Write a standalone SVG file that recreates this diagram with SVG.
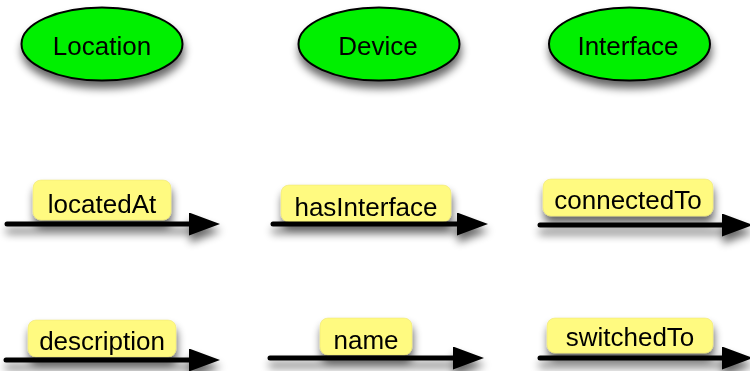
<svg xmlns="http://www.w3.org/2000/svg" width="750" height="371" viewBox="0 0 750 371">
<defs>
<filter id="sh" x="-20%" y="-40%" width="140%" height="200%">
<feGaussianBlur in="SourceAlpha" stdDeviation="4"/>
<feOffset dx="1" dy="7" result="b"/>
<feComponentTransfer in="b" result="s"><feFuncA type="linear" slope="0.6"/></feComponentTransfer>
<feMerge><feMergeNode in="s"/><feMergeNode in="SourceGraphic"/></feMerge>
</filter>
<marker id="ah" viewBox="0 0 31 23" markerUnits="userSpaceOnUse" markerWidth="31" markerHeight="23" refX="6" refY="11.5" orient="auto">
<path d="M0,0 L31,11.5 L0,23 Z" fill="#000"/>
</marker>
</defs>
<style>
.node ellipse{fill:#00f000;stroke:#000;stroke-width:2}
.t{font-family:"Liberation Sans",Arial,Helvetica,sans-serif;font-size:26px;fill:#000;text-anchor:middle}
.lbl{fill:#fffa80;stroke:#e8e070;stroke-width:0.5}
.ln{stroke:#000;stroke-width:5;stroke-linecap:round;fill:none;marker-end:url(#ah)}
</style>
<g id="node-location" class="node" filter="url(#sh)">
<ellipse cx="102" cy="44" rx="80.5" ry="36.5"/>
<text class="t" x="102" y="55">Location</text>
</g>
<g id="node-device" class="node" filter="url(#sh)">
<ellipse cx="379" cy="44" rx="80.5" ry="36.5"/>
<text class="t" x="378" y="55">Device</text>
</g>
<g id="node-interface" class="node" filter="url(#sh)">
<ellipse cx="629.5" cy="44" rx="80.5" ry="36.5"/>
<text class="t" x="628" y="55">Interface</text>
</g>
<g id="connectors" filter="url(#sh)">
<g id="edge-locatedAt">
<rect class="lbl" x="33" y="180" width="138" height="40" rx="8"/>
<text class="t" x="102" y="213">locatedAt</text>
<path class="ln" d="M7,224 H195"/>
</g>
<g id="edge-hasInterface">
<rect class="lbl" x="281" y="185" width="170" height="37" rx="8"/>
<text class="t" x="366" y="216">hasInterface</text>
<path class="ln" d="M273,224 H463"/>
</g>
<g id="edge-connectedTo">
<rect class="lbl" x="543" y="179" width="170" height="37" rx="8"/>
<text class="t" x="628" y="209">connectedTo</text>
<path class="ln" d="M540,225 H728"/>
</g>
<g id="edge-description">
<rect class="lbl" x="28" y="320" width="148" height="37" rx="8"/>
<text class="t" x="102" y="350">description</text>
<path class="ln" d="M6,360 H195"/>
</g>
<g id="edge-name">
<rect class="lbl" x="320" y="318" width="92" height="37" rx="8"/>
<text class="t" x="366" y="349">name</text>
<path class="ln" d="M270,358 H459"/>
</g>
<g id="edge-switchedTo">
<rect class="lbl" x="547" y="318" width="166" height="35" rx="8"/>
<text class="t" x="630" y="346">switchedTo</text>
<path class="ln" d="M540,358 H728"/>
</g>
</g>
</svg>
